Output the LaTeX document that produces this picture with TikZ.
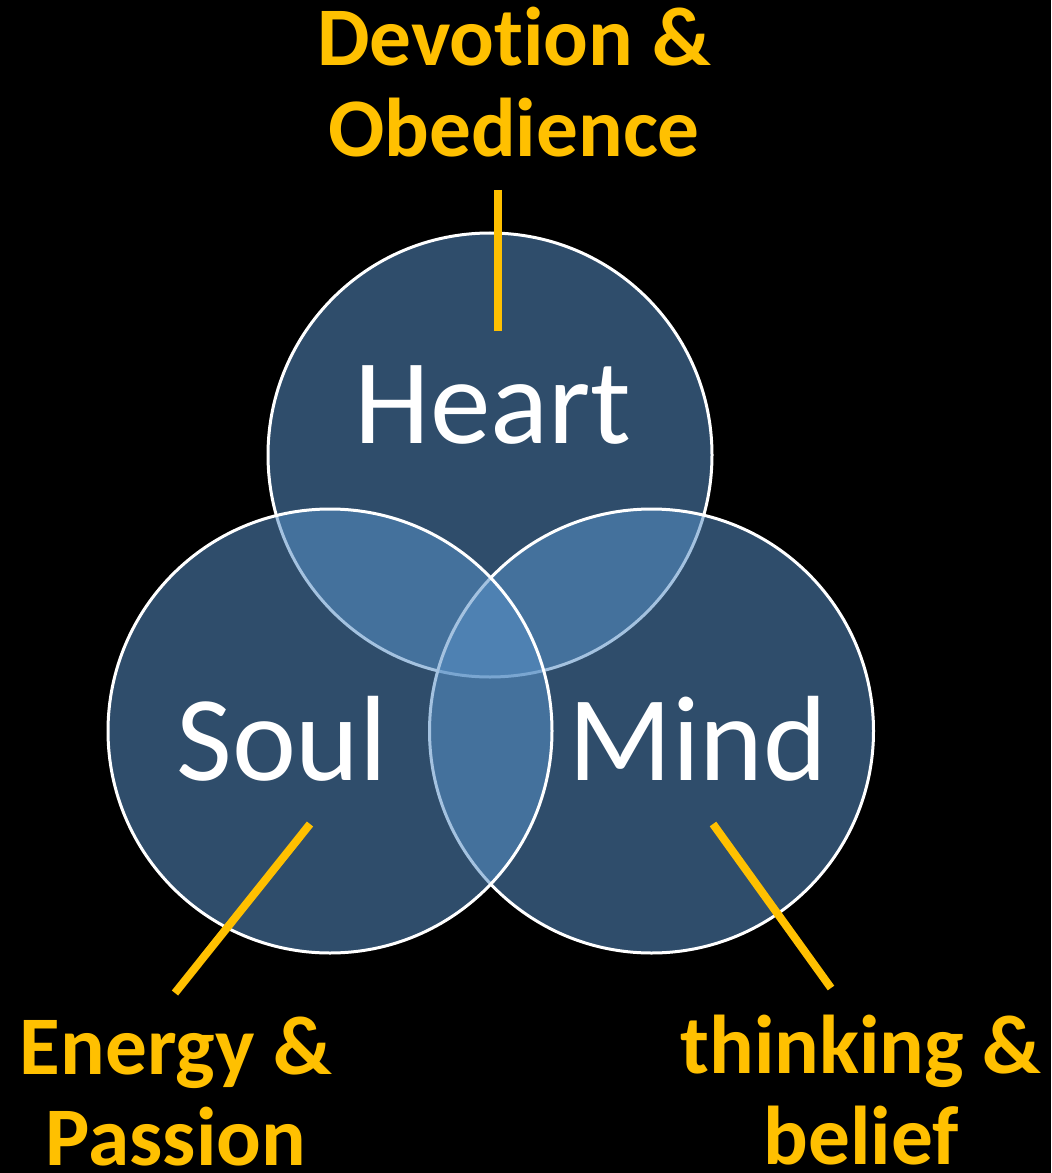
\documentclass[tikz,border=0pt]{standalone}
\usepackage{fontspec}
\setmainfont[Ligatures=NoCommon]{Carlito}
\usepackage{tikz}

\definecolor{ringblue}{RGB}{87,144,198}
\definecolor{gold}{RGB}{255,192,0}

\begin{document}
\begin{tikzpicture}[x=0.75pt,y=-0.75pt,
  ring/.style={draw=white,line width=2.25pt,fill=ringblue,fill opacity=0.54},
  word/.style={text=white,inner sep=0pt,anchor=base,font=\fontsize{91}{100}\selectfont},
  note/.style={text=gold,inner sep=0pt,anchor=base,align=center,font=\bfseries\fontsize{62.5}{68.25}\selectfont},
  pointer/.style={draw=gold,line width=6pt}]
%\draw[help lines] (0,0) grid[step=100] (1051,1173);

 \fill[black] (0,0) rectangle (1051,1173);
 \useasboundingbox (0,0) rectangle (1051,1173);

 % circles: heart, mind, soul
 \draw[ring] (490,455) circle[radius=222];
 \draw[ring] (651.5,731) circle[radius=222];
 \draw[ring] (330,731) circle[radius=222];

 \node[word] (heart) at (493,443) {Heart};
 \node[word] (soul) at (282,780) {Soul};
 \node[word] (mind) at (698,780) {Mind};

 % labels (base = last line)
 \node[note] (devotion) at (514,157) {Devotion \&\\Obedience};
 \node[note] (energy) at (176,1165) {Energy \&\\Passion};
 \node[note] (thinking) at (861,1164) {thinking \&\\belief};

 % pointers
 \coordinate (hA) at (498,190);
 \coordinate (hB) at (498,331);
 \coordinate (sA) at (310,824);
 \coordinate (sB) at (175,993);
 \coordinate (mA) at (713,824);
 \coordinate (mB) at (831,988);
 \draw[pointer] (hA) -- (hB);
 \draw[pointer] (sA) -- (sB);
 \draw[pointer] (mA) -- (mB);

\end{tikzpicture}
\end{document}
